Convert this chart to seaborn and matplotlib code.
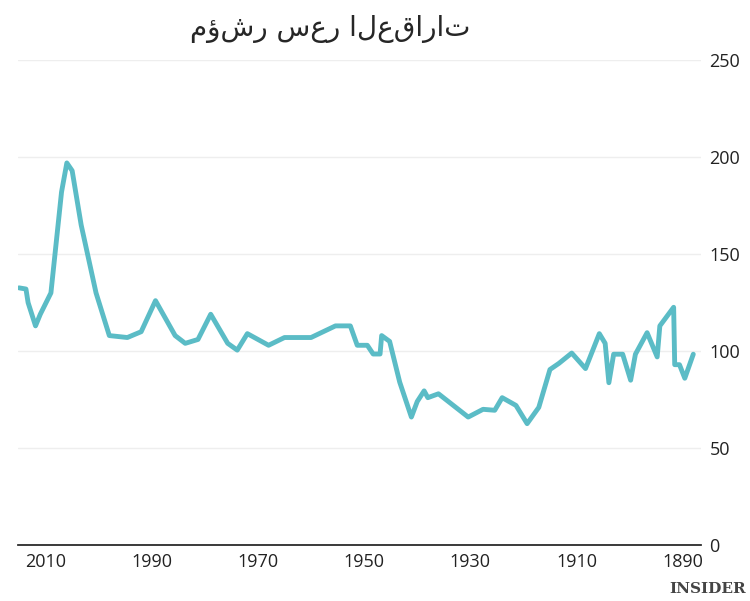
import matplotlib
matplotlib.use("Agg")
import matplotlib.pyplot as plt
import pandas as pd
import seaborn as sns

years = [2015, 2013.7, 2013.3, 2011.9, 2011, 2009, 2007, 2006, 2005, 2003.3, 2000.5,
         1998, 1994.6, 1992, 1989.3, 1985.6, 1983.7, 1981.3, 1978.9, 1975.7, 1973.9,
         1972, 1968, 1965, 1960, 1955.4, 1952.6, 1951.3, 1949.4, 1948.3, 1947, 1946.7,
         1945.2, 1943.3, 1941.1, 1940, 1938.7, 1938, 1936, 1930.4, 1927.6, 1925.4, 1924,
         1921.4, 1919.3, 1917.1, 1915, 1913.3, 1910.9, 1908.3, 1905.7, 1904.6, 1903.9,
         1903, 1901.3, 1899.8, 1898.9, 1896.7, 1894.8, 1894.3, 1891.7, 1891.5, 1890.6,
         1889.6, 1888]
index = [132.6, 132, 125, 113, 119, 130, 182, 197, 193, 165, 130,
         108, 107, 110, 126, 108, 104, 106, 119, 104, 100.5,
         109, 103, 107, 107, 113, 113, 103, 103, 98.5, 98.5, 108,
         105, 84, 66, 74, 79.5, 76, 78, 66, 70, 69.5, 76,
         72, 62.6, 71, 90.5, 93.7, 99, 91, 109, 104, 83.7,
         98.4, 98.4, 85, 98.4, 109.5, 97, 113, 122.6, 93, 93,
         86, 98.4]
title = "مؤشر سعر العقارات"

df = pd.DataFrame({"year": years, "index": index})

sns.set_theme(style="white")
plt.rcParams["font.family"] = ["Open Sans", "DejaVu Sans"]

fig, ax = plt.subplots(figsize=(7.5, 6.01), dpi=100)
fig.subplots_adjust(left=0.024, right=0.935, top=0.9, bottom=0.093)
sns.lineplot(data=df, x="year", y="index", ax=ax, color="#5bbcc6", linewidth=3.5, sort=False)

ax.set_xlim(2015.2, 1886.5)
ax.set_ylim(0, 250)
ax.set_xticks([2010, 1990, 1970, 1950, 1930, 1910, 1890])
ax.set_yticks([0, 50, 100, 150, 200, 250])
ax.yaxis.tick_right()
ax.yaxis.set_label_position("right")
ax.tick_params(labelsize=13, colors="#222222", length=0, pad=6)
ax.grid(axis="y", color="#eeeeee", linewidth=1)
for s in ["top", "left", "right"]:
    ax.spines[s].set_visible(False)
ax.spines["bottom"].set_color("#222222")
ax.set_xlabel("")
ax.set_ylabel("")
fig.suptitle(title, fontsize=20, x=0.44, y=0.975, family=["DejaVu Sans"])
fig.text(0.995, 0.008, "INSIDER", ha="right", va="bottom", fontsize=11,
         color="#444444", family="DejaVu Serif", fontweight="bold")
plt.savefig("out.png")
